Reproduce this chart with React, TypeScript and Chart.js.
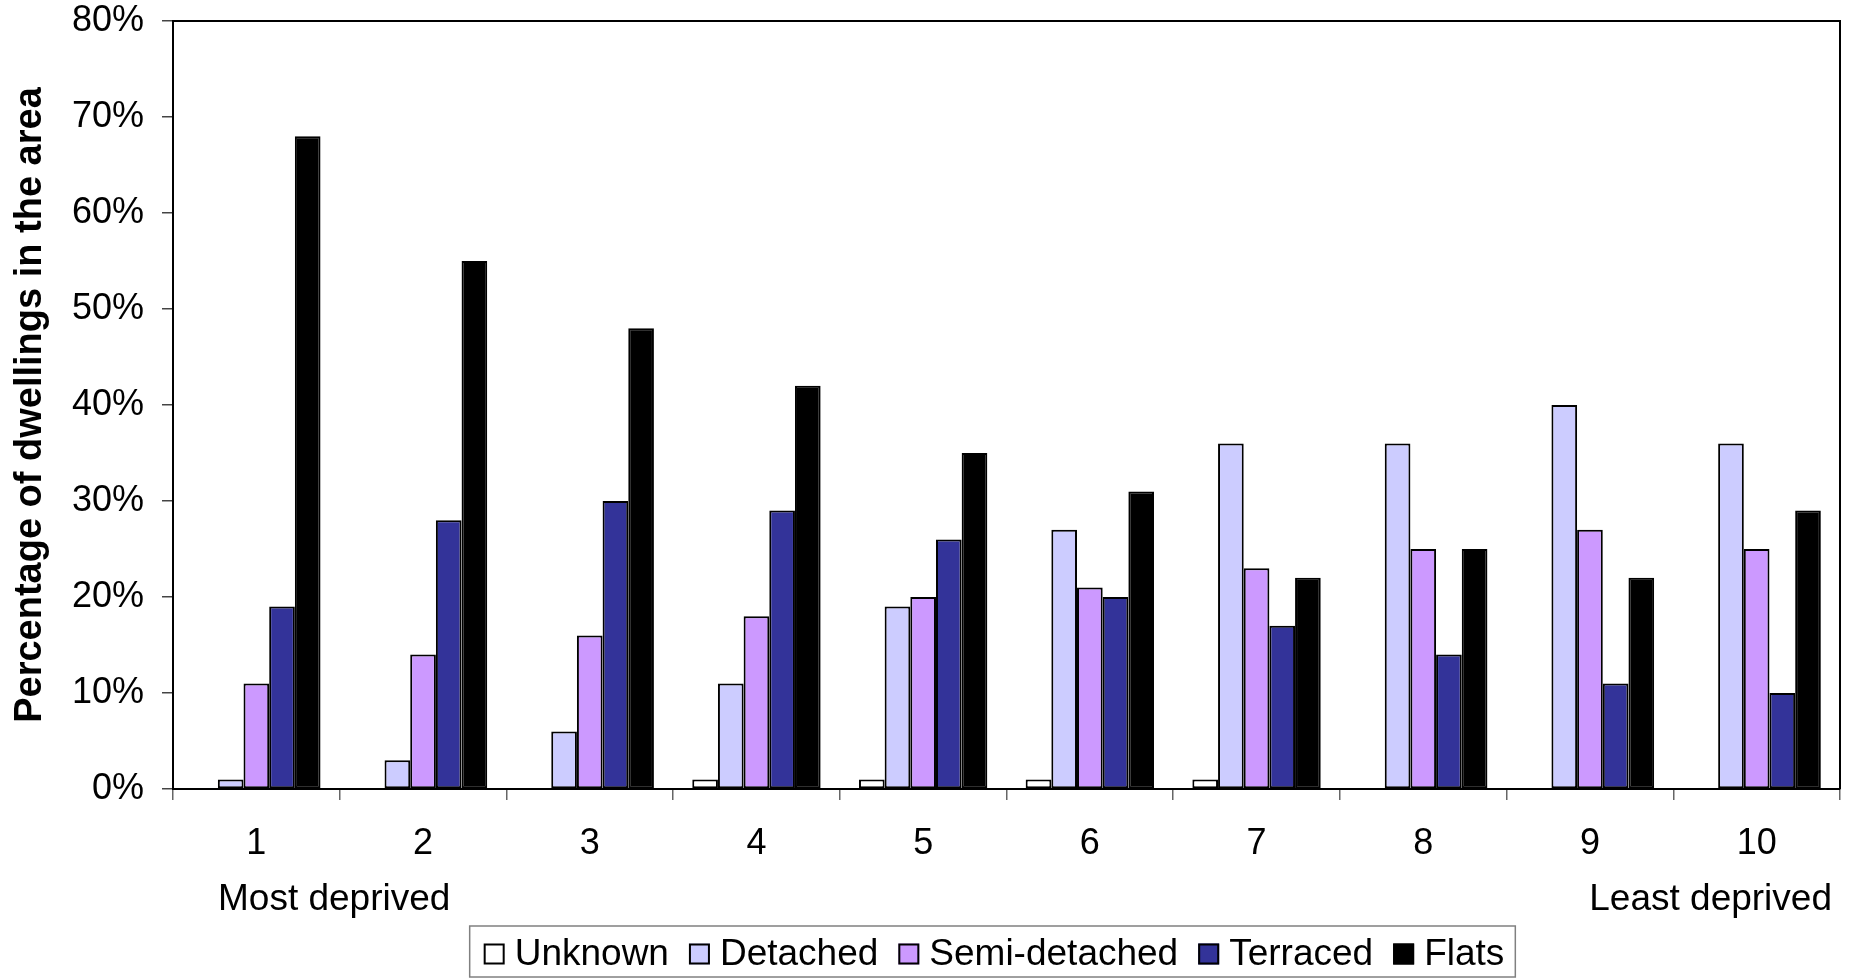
import React, { useEffect, useRef } from 'react';
import { Chart, registerables } from 'chart.js';

Chart.register(...registerables);

const categories = ['1', '2', '3', '4', '5', '6', '7', '8', '9', '10'];
const seriesNames = ['Unknown', 'Detached', 'Semi-detached', 'Terraced', 'Flats'];
const unknownValues = [0, 0, 0, 1, 1, 1, 1, 0, 0, 0];
const detachedValues = [1, 3, 6, 11, 19, 27, 36, 36, 40, 36];
const semiDetachedValues = [11, 14, 16, 18, 20, 21, 23, 25, 27, 25];
const terracedValues = [19, 28, 30, 29, 26, 20, 17, 14, 11, 10];
const flatsValues = [68, 55, 48, 42, 35, 31, 22, 25, 22, 29];
const seriesColors = ['#FFFFFF', '#CCCCFF', '#CC99FF', '#333399', '#000000'];
const yTickValues = [0, 10, 20, 30, 40, 50, 60, 70, 80];
const yTitle = 'Percentage of dwellings in the area';
const leftNote = 'Most deprived';
const rightNote = 'Least deprived';

const FONT = '"Liberation Sans", Arial, Helvetica, sans-serif';

const decorPlugin = {
  id: 'decor',
  afterDraw(chart: any) {
    const { ctx, chartArea: a } = chart;
    ctx.save();
    // plot frame top & right
    ctx.strokeStyle = '#000';
    ctx.lineWidth = 2;
    ctx.beginPath();
    ctx.moveTo(a.left, a.top);
    ctx.lineTo(a.right, a.top);
    ctx.lineTo(a.right, a.bottom);
    ctx.stroke();

    // notes under axis
    ctx.fillStyle = '#000';
    ctx.font = `37px ${FONT}`;
    ctx.textBaseline = 'middle';
    ctx.textAlign = 'left';
    ctx.fillText(leftNote, a.left + 45, a.bottom + 111);
    ctx.textAlign = 'right';
    ctx.fillText(rightNote, a.right - 8, a.bottom + 111);

    // legend
    const box = 21;
    const gapBT = 10;
    const gapItems = 20;
    const widths = chart.data.datasets.map((d: any) => ctx.measureText(d.label).width);
    let total = 0;
    widths.forEach((w: number, i: number) => {
      total += box + gapBT + w + (i < widths.length - 1 ? gapItems : 0);
    });
    const centerX = 994;
    const cy = 954;
    let x = centerX - total / 2;
    ctx.strokeStyle = '#808080';
    ctx.lineWidth = 1.5;
    ctx.strokeRect(x - 14, 926, total + 25, 51);
    ctx.textAlign = 'left';
    chart.data.datasets.forEach((d: any, i: number) => {
      ctx.fillStyle = d.backgroundColor;
      ctx.fillRect(x, cy - box / 2, box, box);
      ctx.strokeStyle = '#000';
      ctx.lineWidth = 2;
      ctx.strokeRect(x + 1, cy - box / 2 + 1, box - 2, box - 2);
      ctx.fillStyle = '#000';
      ctx.fillText(d.label, x + box + gapBT, cy + 1);
      x += box + gapBT + widths[i] + gapItems;
    });
    ctx.restore();
  },
};

export default function App() {
  const ref = useRef<HTMLCanvasElement | null>(null);
  useEffect(() => {
    if (!ref.current) return;
    const allValues = [unknownValues, detachedValues, semiDetachedValues, terracedValues, flatsValues];
    const chart = new Chart(ref.current, {
      type: 'bar',
      data: {
        labels: categories,
        datasets: seriesNames.map((name, i) => ({
          label: name,
          data: allValues[i],
          backgroundColor: seriesColors[i],
          borderColor: '#000000',
          borderWidth: 2,
          borderSkipped: false,
          categoryPercentage: 0.77,
          barPercentage: 1.0,
        })),
      },
      options: {
        responsive: false,
        maintainAspectRatio: false,
        animation: false,
        devicePixelRatio: 1,
        layout: { padding: { top: 21, right: 14, left: 0, bottom: 0 } },
        plugins: {
          legend: { display: false },
          tooltip: { enabled: false },
        },
        scales: {
          x: {
            afterFit: (s: any) => {
              s.height = 189;
              s.paddingLeft = 0;
              s.paddingRight = 0;
            },
            grid: {
              offset: true,
              drawOnChartArea: false,
              drawTicks: true,
              tickLength: 11,
              color: '#666666',
              lineWidth: 1.5,
            },
            border: { display: true, color: '#000000', width: 2 },
            ticks: {
              color: '#000',
              font: { family: FONT, size: 36 },
              padding: 22,
              maxRotation: 0,
            },
          },
          y: {
            min: 0,
            max: 80,
            afterFit: (s: any) => {
              s.width = 173;
              s.paddingTop = 0;
              s.paddingBottom = 0;
            },
            afterBuildTicks: (s: any) => { s.ticks = yTickValues.map((v) => ({ value: v })); },
            grid: {
              drawOnChartArea: false,
              drawTicks: true,
              tickLength: 11,
              color: '#444444',
              lineWidth: 1.5,
            },
            border: { display: true, color: '#000000', width: 2 },
            ticks: {
              color: '#000',
              font: { family: FONT, size: 36, lineHeight: 1 },
              padding: 18,
              callback: (v: any) => `${v}%`,
            },
            title: {
              display: true,
              text: yTitle,
              color: '#000',
              font: { family: FONT, size: 38, weight: 'bold' },
              padding: { top: 8, bottom: 0 },
            },
          },
        },
      },
      plugins: [decorPlugin],
    });
    return () => chart.destroy();
  }, []);
  return (
    <div style={{ position: 'absolute', left: 0, top: 0, width: 1854, height: 978, background: '#fff' }}>
      <canvas ref={ref} width={1854} height={978} style={{ display: 'block' }} />
    </div>
  );
}
